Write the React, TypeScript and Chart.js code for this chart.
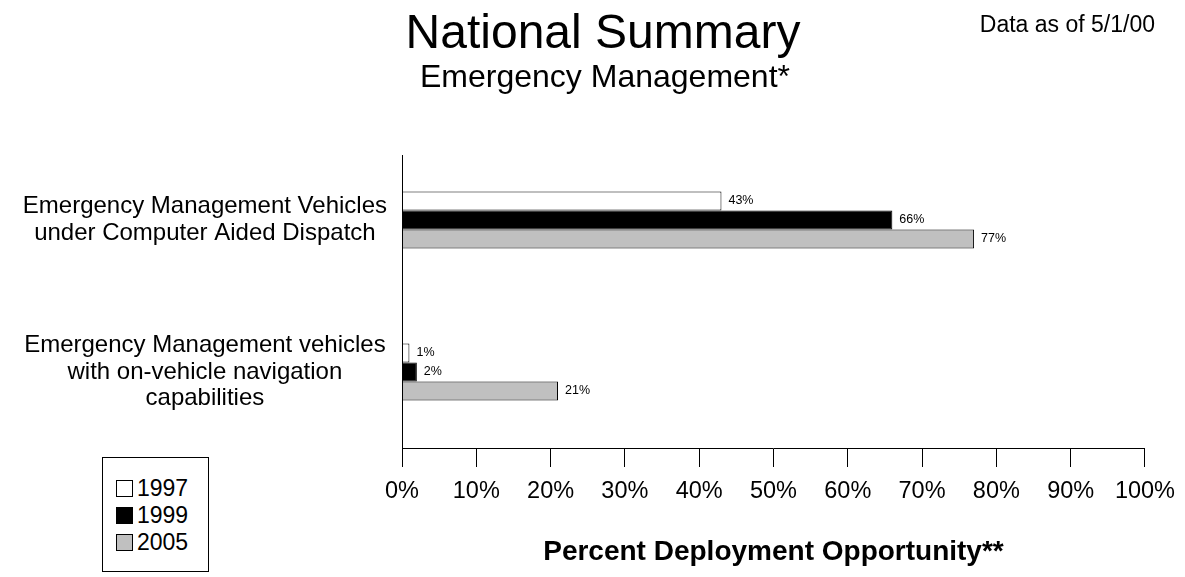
import React, { useEffect, useRef } from "react";
import { Chart, registerables } from "chart.js";

Chart.register(...registerables);

const FONT = '"Liberation Sans", Arial, Helvetica, sans-serif';

const titleText = "National Summary";
const subtitleText = "Emergency Management*";
const noteText = "Data as of 5/1/00";
const axisTitleText = "Percent Deployment Opportunity**";

const categories: string[][] = [
  ["Emergency Management Vehicles", "under Computer Aided Dispatch"],
  ["Emergency Management vehicles", "with on-vehicle navigation", "capabilities"],
];
const seriesNames = ["1997", "1999", "2005"];
const values1997 = [43, 1];
const values1999 = [66, 2];
const values2005 = [77, 21];
const seriesFill = ["#ffffff", "#000000", "#c0c0c0"];
const xTickStep = 10;
const xMin = 0;
const xMax = 100;

const overlayPlugin = {
  id: "overlay",
  afterDatasetsDraw(chart: any) {
    const { ctx, chartArea } = chart;
    ctx.save();
    // data labels
    ctx.font = `12.5px ${FONT}`;
    ctx.fillStyle = "#000";
    ctx.textBaseline = "middle";
    ctx.textAlign = "left";
    chart.data.datasets.forEach((ds: any, i: number) => {
      const meta = chart.getDatasetMeta(i);
      meta.data.forEach((el: any, j: number) => {
        ctx.fillText(`${ds.data[j]}%`, el.x + 7, el.y);
      });
    });
    // vertical axis line
    ctx.strokeStyle = "#000";
    ctx.lineWidth = 1;
    ctx.beginPath();
    const x = Math.round(chartArea.left) + 0.5;
    ctx.moveTo(x, chartArea.top + 11);
    ctx.lineTo(x, chartArea.bottom);
    ctx.stroke();
    // titles
    ctx.textAlign = "center";
    ctx.textBaseline = "alphabetic";
    ctx.font = `48px ${FONT}`;
    ctx.fillText(titleText, 603, 48);
    ctx.font = `32px ${FONT}`;
    ctx.fillText(subtitleText, 605, 87);
    // note at top right
    ctx.font = `23px ${FONT}`;
    ctx.textAlign = "right";
    ctx.fillText(noteText, chart.width - 30, 32);
    ctx.restore();
  },
};

function Legend() {
  const rows = [
    { label: seriesNames[0], color: seriesFill[0], top: 22 },
    { label: seriesNames[1], color: seriesFill[1], top: 49 },
    { label: seriesNames[2], color: seriesFill[2], top: 76 },
  ];
  return (
    <div
      style={{
        position: "absolute",
        left: 102,
        top: 457,
        width: 105,
        height: 113,
        border: "1px solid #000",
        background: "#fff",
        fontFamily: FONT,
      }}
    >
      {rows.map((r) => (
        <div key={r.label} style={{ position: "absolute", left: 13, top: r.top, height: 17, display: "flex", alignItems: "center" }}>
          <div
            style={{
              width: 15,
              height: 15,
              border: "1px solid #000",
              background: r.color,
              boxSizing: "content-box",
            }}
          />
          <span style={{ marginLeft: 4, fontSize: 23, lineHeight: "17px", color: "#000" }}>{r.label}</span>
        </div>
      ))}
    </div>
  );
}

export default function App() {
  const canvasRef = useRef<HTMLCanvasElement | null>(null);

  useEffect(() => {
    if (!canvasRef.current) return;
    Chart.defaults.font.family = FONT;
    Chart.defaults.color = "#000";
    const chart = new Chart(canvasRef.current, {
      type: "bar",
      data: {
        labels: categories,
        datasets: [
          { label: seriesNames[0], data: values1997, backgroundColor: seriesFill[0], borderColor: "#000", borderWidth: 1 },
          { label: seriesNames[1], data: values1999, backgroundColor: seriesFill[1], borderColor: "#000", borderWidth: 1 },
          { label: seriesNames[2], data: values2005, backgroundColor: seriesFill[2], borderColor: "#000", borderWidth: 1 },
        ],
      },
      options: {
        indexAxis: "y",
        animation: false,
        responsive: false,
        maintainAspectRatio: false,
        categoryPercentage: 0.375,
        barPercentage: 1,
        layout: { padding: { left: 0, right: 40, top: 144, bottom: 0 } },
        plugins: {
          legend: { display: false },
          tooltip: { enabled: false },
          title: { display: false },
        },
        scales: {
          x: {
            type: "linear",
            min: xMin,
            max: xMax,
            ticks: {
              stepSize: xTickStep,
              callback: (v: any) => `${v}%`,
              font: { family: FONT, size: 23.5 },
              color: "#000",
              padding: 10,
              maxRotation: 0,
            },
            grid: {
              display: true,
              drawOnChartArea: false,
              drawTicks: true,
              tickLength: 19,
              color: "#000",
              lineWidth: 1,
            },
            border: { display: true, color: "#000", width: 1 },
            title: {
              display: true,
              text: axisTitleText,
              color: "#000",
              font: { family: FONT, size: 28, weight: "bold" },
              padding: { top: 0, bottom: 8 },
            },
            afterFit: (scale: any) => {
              scale.height = 129;
            },
          },
          y: {
            type: "category",
            ticks: {
              font: { family: FONT, size: 24, lineHeight: 1.1 },
              color: "#000",
              crossAlign: "center",
              padding: 15,
              autoSkip: false,
            },
            grid: { display: false, drawTicks: false },
            border: { display: false },
            afterFit: (scale: any) => {
              scale.width = 402;
            },
          },
        },
      },
      plugins: [overlayPlugin],
    } as any);
    return () => chart.destroy();
  }, []);

  return (
    <div style={{ position: "absolute", left: 0, top: 0, width: 1185, height: 577, background: "#fff" }}>
      <canvas ref={canvasRef} width={1185} height={577} style={{ display: "block" }} />
      <Legend />
    </div>
  );
}
